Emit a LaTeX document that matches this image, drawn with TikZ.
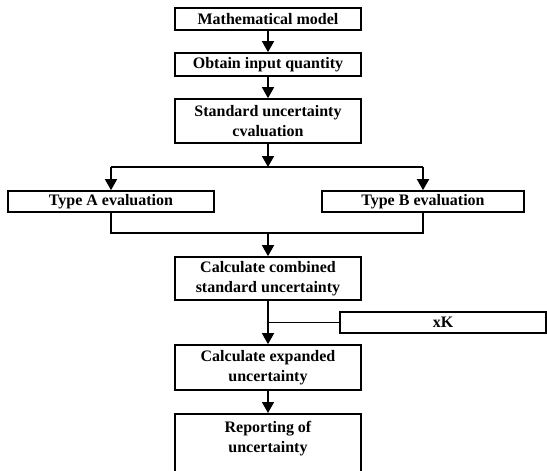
\documentclass[tikz,border=0pt]{standalone}
\usepackage{fontspec}
\setmainfont{Liberation Serif}
\usetikzlibrary{arrows.meta}
\begin{document}
\begin{tikzpicture}[x=1pt,y=-1pt,
  stepbox/.style={draw,line width=1.7pt,minimum height=#1,inner sep=0pt,align=center,
    font=\fontsize{16}{20}\selectfont\bfseries},
  stepbox/.default=22pt,
  conn/.style={line width=1.7pt},
  arr/.style={conn,-{Triangle[length=11pt,width=12pt]}}]
\useasboundingbox (0,0) rectangle (547,471);
\begin{scope}
\clip (0,0) rectangle (547,471);
\node[stepbox=22pt,minimum width=186pt] (b1) at (268,19) {Mathematical model};
\node[stepbox=23pt,minimum width=186pt] (b2) at (268,64.5) {Obtain input quantity};
\node[stepbox=44pt,minimum width=186pt] (b3) at (268,121) {Standard uncertainty\\cvaluation};
\coordinate (h1) at (268,167);
\coordinate (hA) at (111,167);
\coordinate (hB) at (423,167);
\node[stepbox=21pt,minimum width=206pt] (ta) at (111,201.5) {Type A evaluation};
\node[stepbox=21pt,minimum width=202pt] (tb) at (423,201.5) {Type B evaluation};
\coordinate (lA) at (111,233);
\coordinate (lB) at (423,233);
\coordinate (l1) at (268,233);
\node[stepbox=43pt,minimum width=186pt] (cc) at (268,278.5) {Calculate combined\\standard uncertainty};
\node[stepbox=21pt,minimum width=206pt] (xk) at (443,322.5) {xK};
\coordinate (br) at (268,322.5);
\node[stepbox=45pt,minimum width=186pt] (ce) at (268,367.5) {Calculate expanded\\uncertainty};
\node[stepbox=66pt,minimum width=186pt,anchor=north] (rp) at (268,413) {\parbox[c][66pt][t]{180pt}{\centering\vspace{7pt}Reporting of\\uncertainty}};
\draw[arr] (b1) -- (b2);
\draw[arr] (b2) -- (b3);
\draw[arr] (b3) -- (h1);
\draw[conn] (hA) -- (hB);
\draw[arr] (hA) -- (ta);
\draw[arr] (hB) -- (tb);
\draw[conn] (ta) -- (lA) -- (lB) -- (tb);
\draw[arr] (l1) -- (cc);
\draw[arr] (cc) -- (ce);
\draw[conn] (br) -- (xk);
\draw[arr] (ce) -- (rp);
\end{scope}
\end{tikzpicture}
\end{document}
